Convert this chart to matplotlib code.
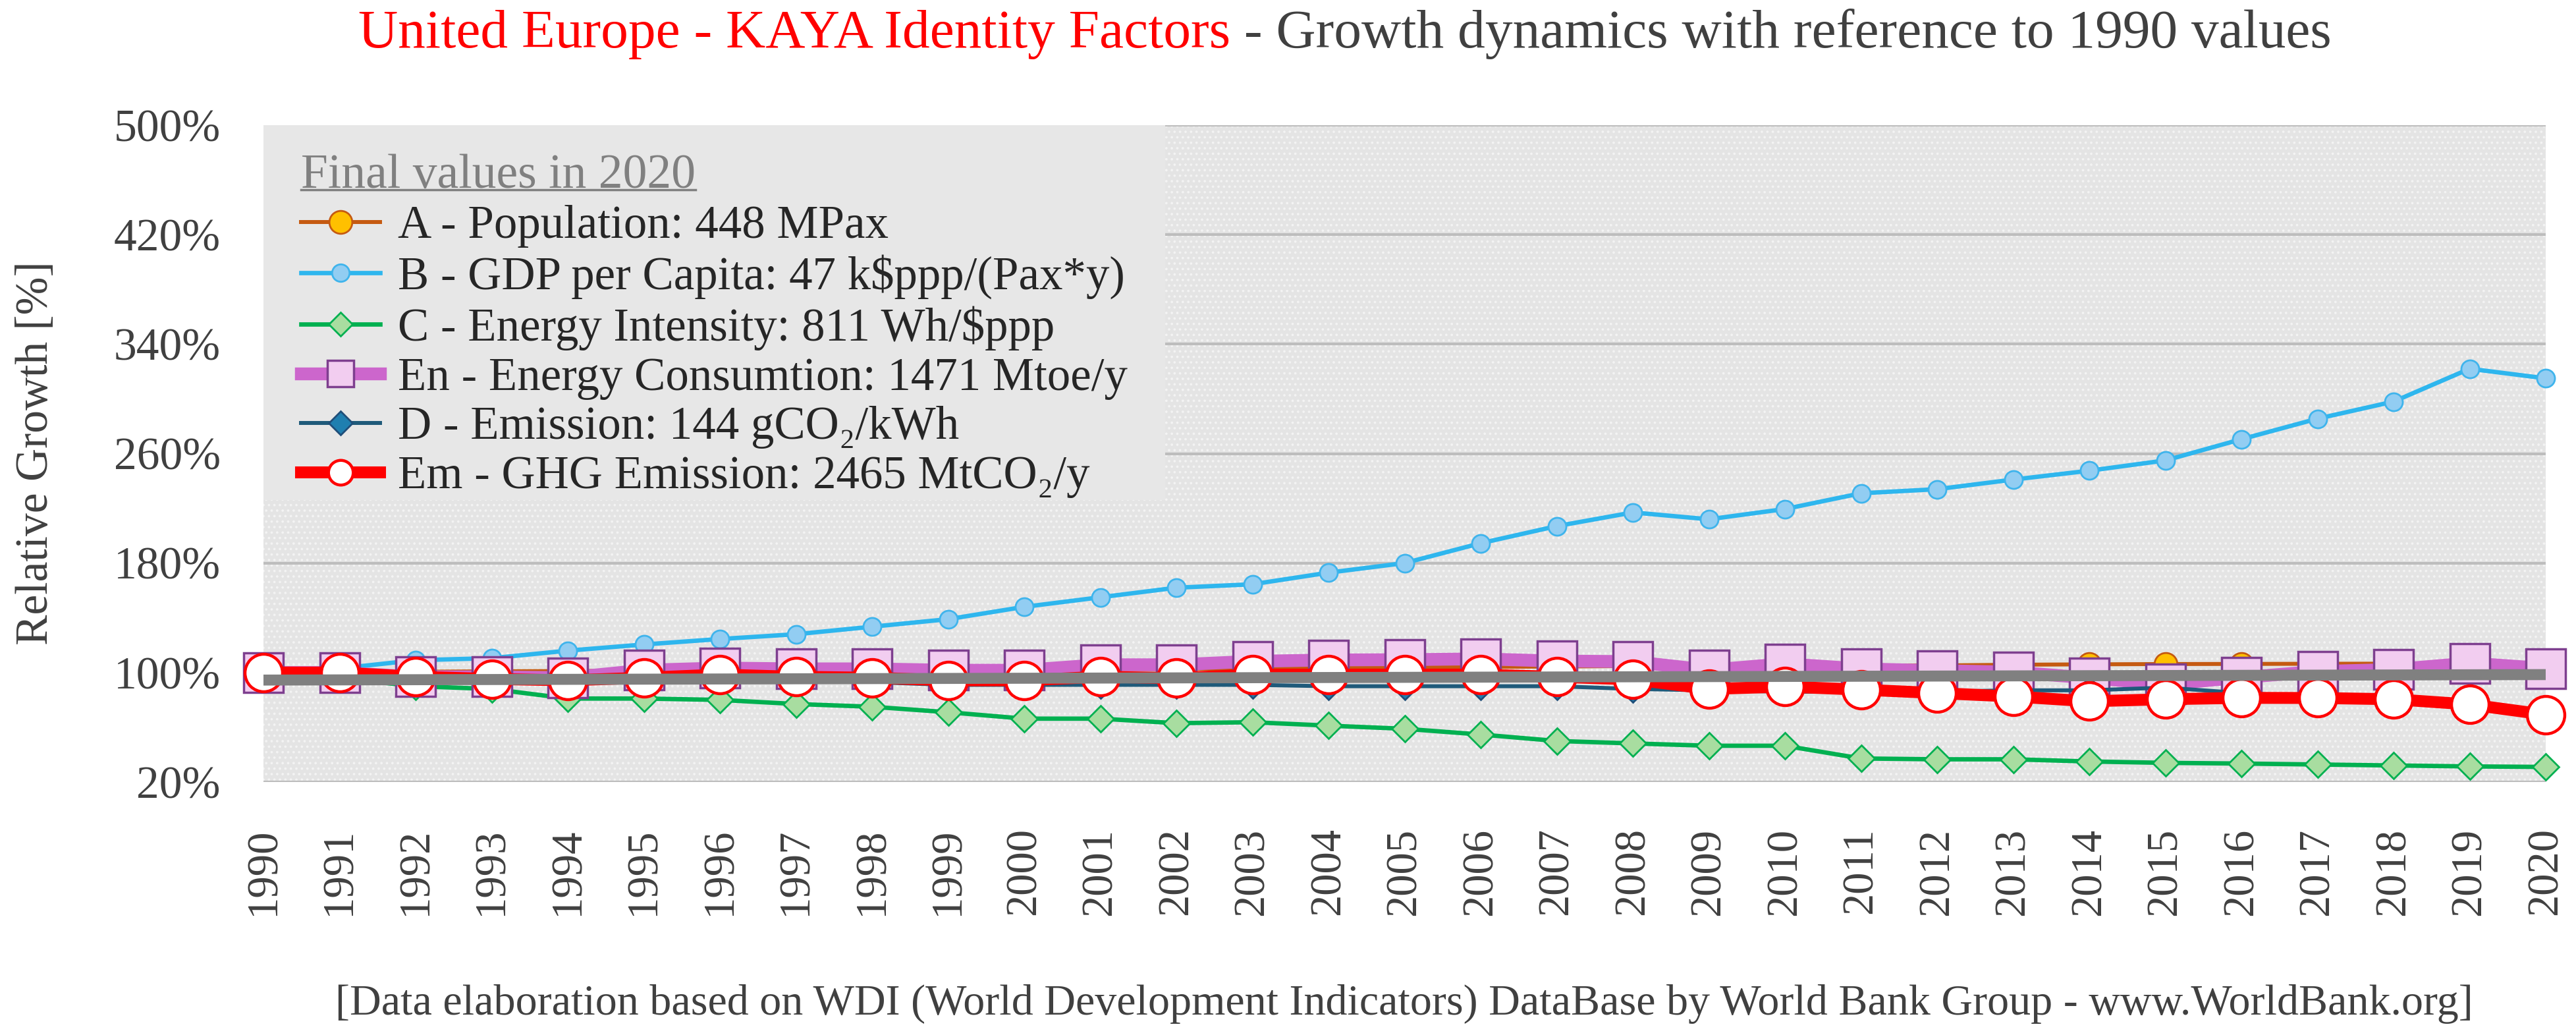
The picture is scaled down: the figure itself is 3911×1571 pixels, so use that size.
import matplotlib
matplotlib.use("Agg")
import matplotlib.pyplot as plt
from matplotlib.patches import Rectangle
from matplotlib.lines import Line2D

plt.rcParams['font.family'] = ['Liberation Serif', 'DejaVu Serif']
plt.rcParams['hatch.linewidth'] = 1.5

# data (% of 1990 value)
years = list(range(1990, 2021))
population_A = [100.0, 100.3, 100.6, 100.9, 101.1, 101.3, 101.5, 101.6, 101.8, 101.9,
                102.1, 102.3, 102.6, 103.0, 103.4, 103.8, 104.1, 104.4, 104.8, 105.0,
                105.2, 105.0, 105.2, 105.7, 106.0, 106.2, 106.3, 106.4, 106.5, 106.7, 106.7]
gdp_B = [100, 103, 109, 110.5, 116, 120.5, 124.5, 128, 133.5, 139,
         148, 155, 162, 164.5, 173, 180, 194.5, 207, 217, 212,
         219.5, 231, 234, 241, 247.5, 255, 270.5, 285.5, 298, 322, 315]
intensity_C = [100, 96, 90, 88, 81, 81, 80, 77, 75, 71,
               66.3, 66.3, 63, 63.7, 61.2, 58.9, 54.7, 50, 48.2, 46.5,
               46.5, 37.2, 36.6, 36.6, 35, 34, 33.5, 32.8, 32.1, 31.4, 31]
energy_En = [100, 100, 96.9, 96.9, 96.2, 101.7, 103.3, 102.7, 102.7, 101.7,
             101.7, 105.7, 105.7, 108.2, 109.2, 109.4, 110, 108.4, 108, 101.8,
             106.4, 102.7, 101.4, 100.3, 96.1, 91.5, 96.4, 100.8, 102.2, 106.9, 103]
emission_D = [100, 99, 98, 97, 96, 95, 95, 94, 93, 91,
              91, 91, 91, 91, 90, 90, 90, 90, 88, 87,
              86, 86, 86, 87, 87, 89, 85, 82, 80, 76, 68]
ghg_Em = [100, 100, 96.9, 95.3, 94.3, 96.2, 98.5, 96.9, 96.2, 94.3,
          94.3, 96.9, 95.9, 98.5, 98.5, 98.5, 98.5, 96.9, 95.0, 88.0,
          89.7, 87.5, 85.0, 82.5, 79.0, 80.5, 81.5, 81.4, 80.5, 76.7, 69.2]
ref_years = [1990, 2020]
ref_line = [94.5, 98.5]
yticks = [20, 100, 180, 260, 340, 420, 500]

labels = ['A - Population: 448 MPax',
          'B - GDP per Capita: 47 k$ppp/(Pax*y)',
          'C - Energy Intensity: 811 Wh/$ppp',
          'En - Energy Consumtion: 1471 Mtoe/y',
          'D - Emission: 144 gCO\u2082/kWh',
          'Em - GHG Emission: 2465 MtCO\u2082/y']

W, H = 3911, 1571
fig = plt.figure(figsize=(W / 100, H / 100), dpi=100)
ax = fig.add_axes([400 / W, 1 - 1187 / H, (3865 - 400) / W, (1187 - 190) / H])
ax.set_xlim(1990, 2020)
ax.set_ylim(20, 500)
for s in ax.spines.values():
    s.set_visible(False)

# dotted plot background + gridlines
ax.add_patch(Rectangle((0, 0), 1, 1, transform=ax.transAxes, facecolor='#E4E4E4',
                       edgecolor='#F3F3F3', hatch='..', lw=0, zorder=0.1))
for v in yticks:
    ax.axhline(v, color='#BDBDBD', lw=3, zorder=0.3)
# legend panel
ax.add_patch(Rectangle((0, (1187 - 759) / 997), (1769 - 400) / 3465, 1 - (1187 - 759) / 997,
                       transform=ax.transAxes, facecolor='#E7E7E7', lw=0, zorder=0.4))

ax.plot(years, population_A, color='#C55A11', lw=4.3, marker='o', ms=25,
        mfc='#FFC000', mec='#C55A11', mew=2, zorder=2, clip_on=False, label=labels[0])
ax.plot(years, gdp_B, color='#2EB6EE', lw=4.8, marker='o', ms=19.5,
        mfc='#92CDF2', mec='#3FB4EC', mew=2, zorder=3, clip_on=False, label=labels[1])
ax.plot(years, intensity_C, color='#00B050', lw=4.8, marker='D', ms=20,
        mfc='#A8DDA0', mec='#00B050', mew=2, zorder=4, clip_on=False, label=labels[2])
ax.plot(years, energy_En, color='#CC66CC', lw=14, marker='s', ms=43,
        mfc='#F2CDF0', mec='#7E3F8F', mew=2.5, zorder=5, clip_on=False, label=labels[3])
ax.plot(years, emission_D, color='#1F5A7A', lw=4.3, marker='D', ms=20,
        mfc='#1F7FB0', mec='#1F4E79', mew=2, zorder=6, clip_on=False, label=labels[4])
ax.plot(years, ghg_Em, color='#FF0000', lw=13, marker='o', ms=41,
        mfc='white', mec='#FF0000', mew=3.2, zorder=7, clip_on=False, label=labels[5])
ax.plot(ref_years, ref_line, color='#808080', lw=12, zorder=8, solid_capstyle='butt')

ax.set_yticks(yticks)
ax.set_yticklabels([f'{v}%' for v in yticks])
ax.set_xticks(years)
ax.set_xticklabels([str(y) for y in years], rotation=90)
ax.tick_params(axis='y', length=0, labelsize=50, colors='#404040', pad=47)
ax.tick_params(axis='x', length=0, labelsize=48, colors='#404040', pad=50)

leg = ax.legend(loc='upper left', bbox_to_anchor=((457 - 400) / 3465, (1187 - 234) / 997),
                frameon=False, fontsize=51, title='Final values in 2020', title_fontsize=53,
                alignment='left', borderpad=0, borderaxespad=0, handlelength=1.7,
                handletextpad=0.38, labelspacing=0.14, labelcolor='#262626')
leg.get_title().set_color('#808080')
leg_sizes = [25, 19, 18.5, 29, 18.5, 27]
for h, s in zip(leg.legend_handles, leg_sizes):
    h.set_markersize(s)

fig.text(55 / W, (H - 688) / H, 'Relative Growth [%]', rotation=90, ha='center',
         va='center', fontsize=50, color='#404040')
fig.text(2132 / W, 31 / H, '[Data elaboration based on WDI (World Development Indicators) '
         'DataBase by World Bank Group - www.WorldBank.org]', ha='center', va='baseline',
         fontsize=47.5, color='#404040')

t1 = fig.text(0, (H - 72) / H, 'United Europe - KAYA Identity Factors', ha='left',
              va='baseline', fontsize=60, color='#FF0000')
t2 = fig.text(0, (H - 72) / H, ' - Growth dynamics with reference to 1990 values', ha='left',
              va='baseline', fontsize=60, color='#404040')

fig.canvas.draw()
r = fig.canvas.get_renderer()
w1 = t1.get_window_extent(r).width
w2 = t2.get_window_extent(r).width
x0 = 2042 - (w1 + w2) / 2
t1.set_x(x0 / W)
t2.set_x((x0 + w1) / W)

# underline the legend title
tb = leg.get_title().get_window_extent(r)
fig.add_artist(Line2D([tb.x0 / W, tb.x1 / W], [(tb.y0 + 14) / H, (tb.y0 + 14) / H],
                      color='#808080', lw=2.5))

fig.savefig('out.png', dpi=100)
